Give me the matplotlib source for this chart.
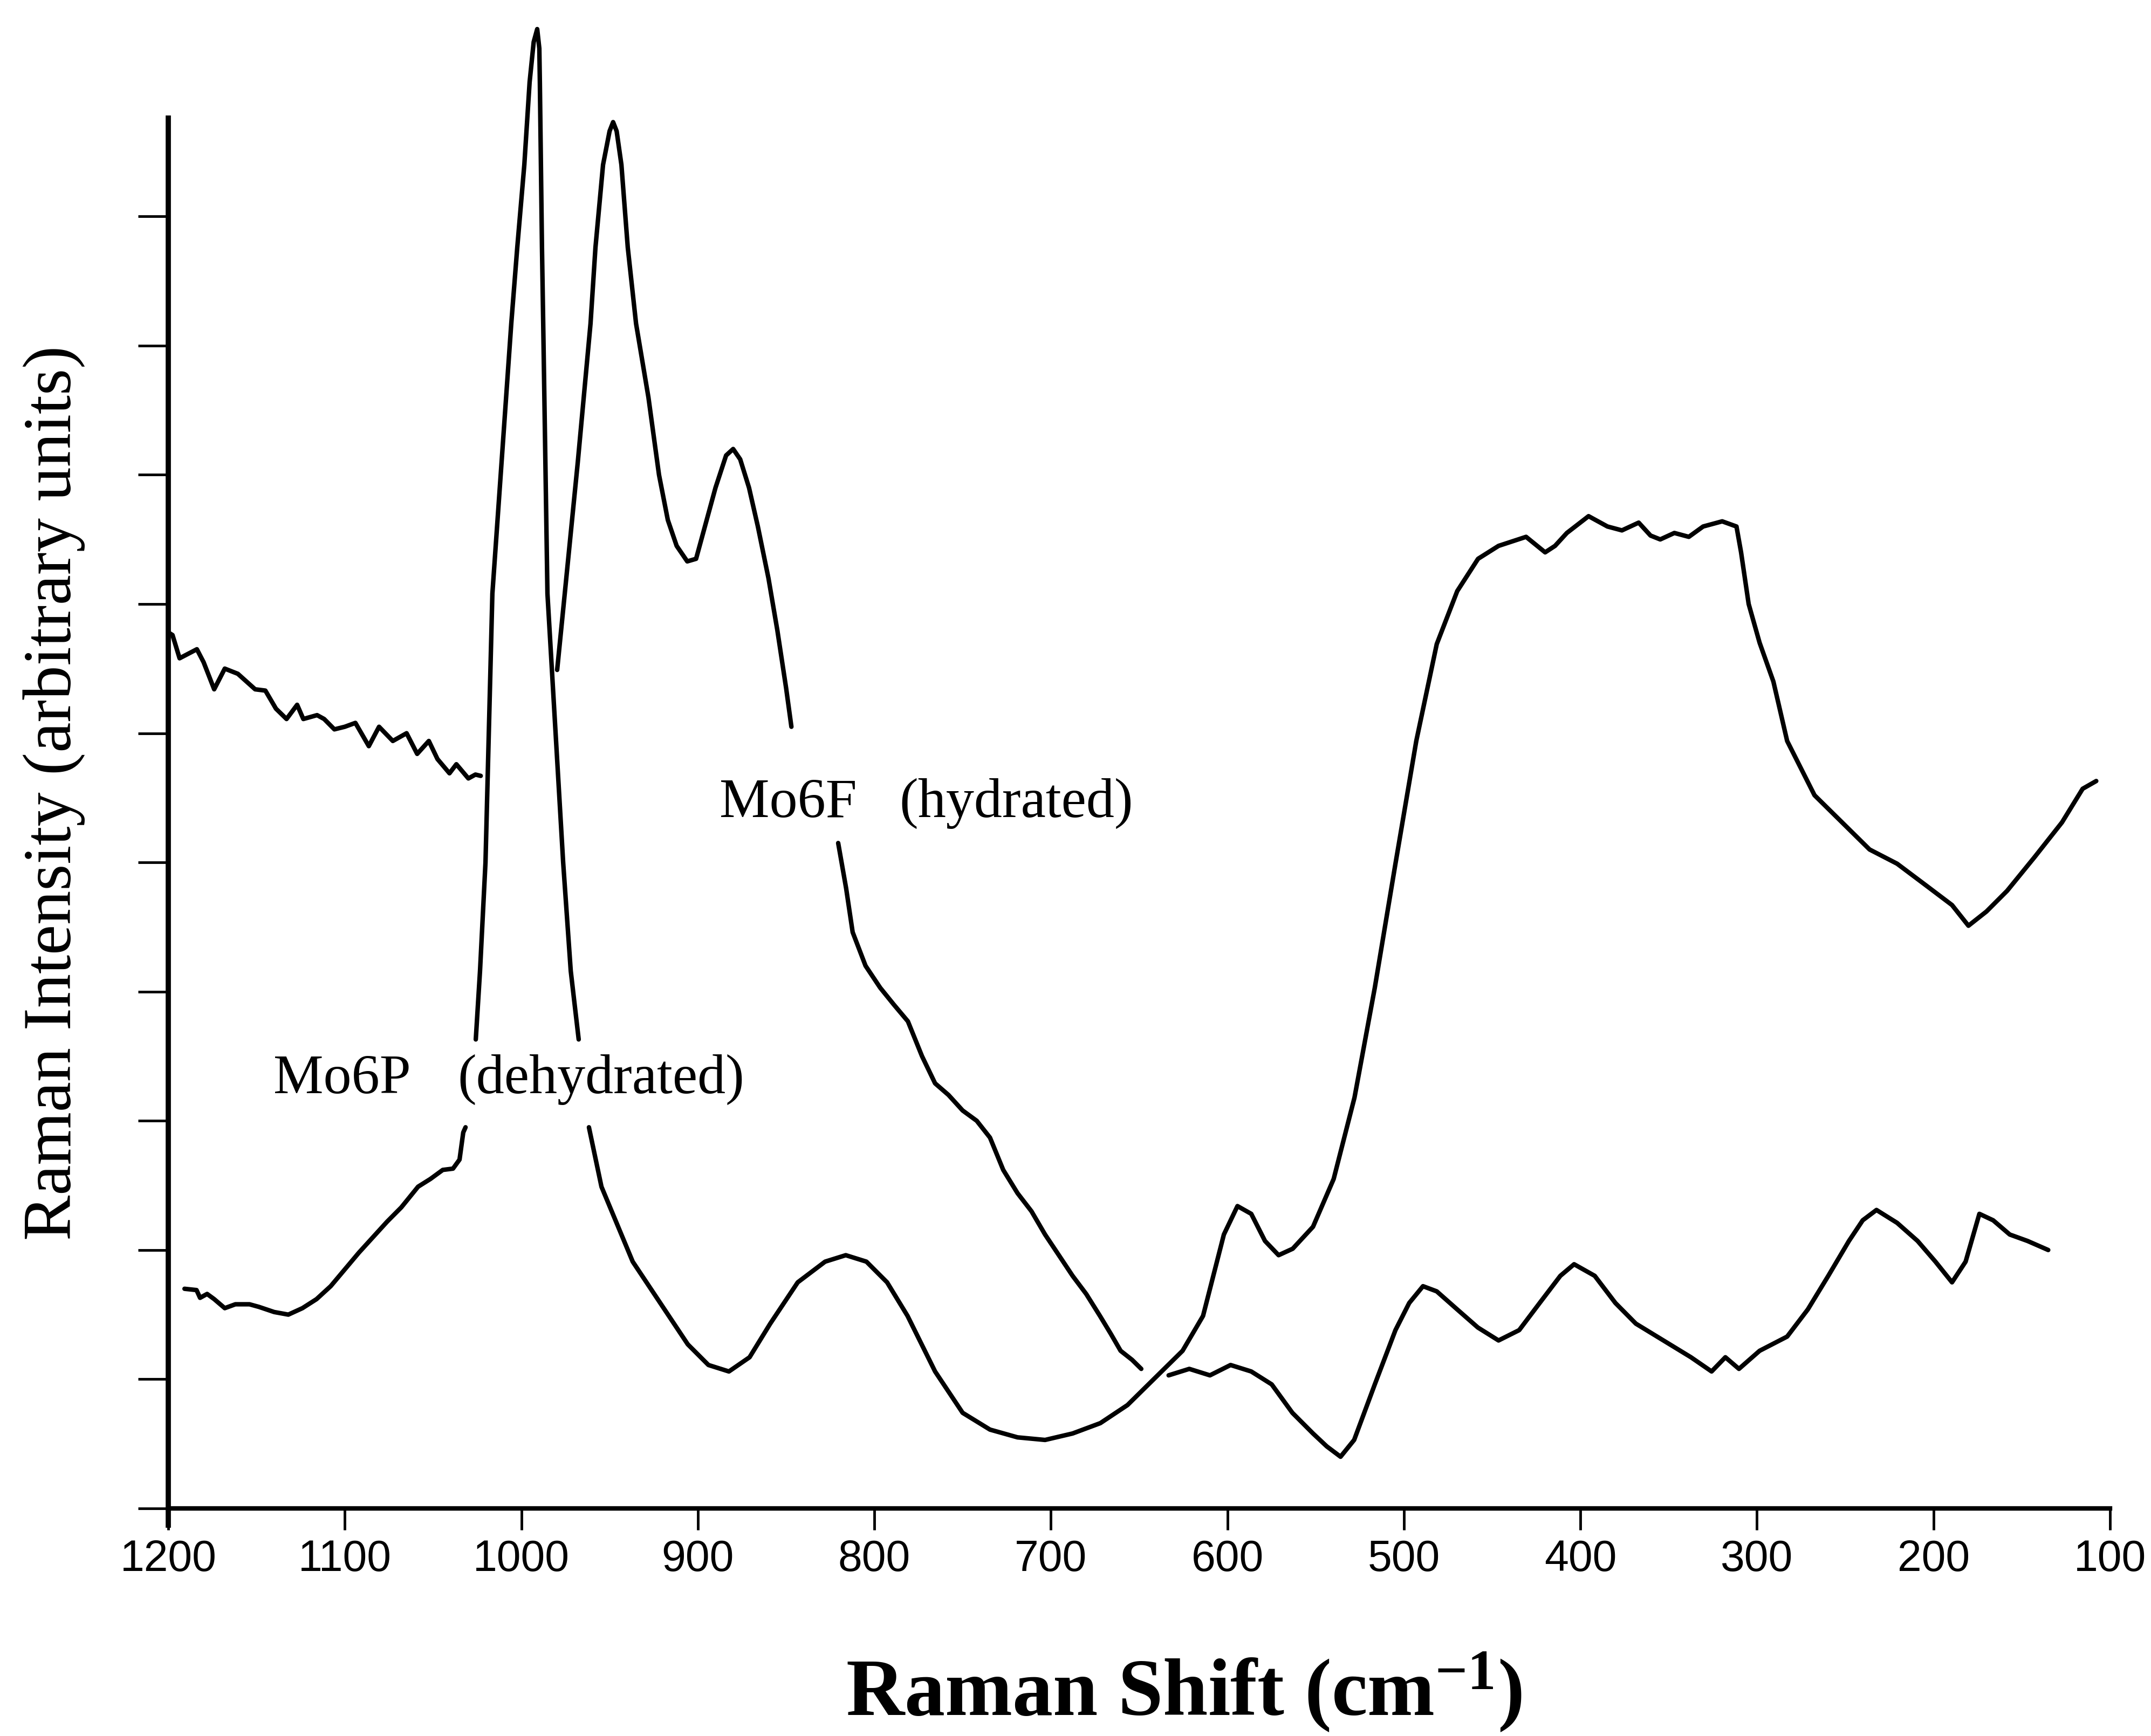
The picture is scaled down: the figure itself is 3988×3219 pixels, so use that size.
import matplotlib
matplotlib.use("Agg")
import matplotlib.pyplot as plt

# ---------------- data (Raman shift cm-1, intensity a.u.) ----------------
# Mo6F (hydrated) — drawn in separate pieces (gaps where it crosses other marks/labels)
mo6f_a_x = [1200, 1197.6, 1193.6, 1183.8, 1180, 1174, 1168, 1160.6, 1150.8, 1145, 1139, 1133,
            1127, 1123.5, 1115.7, 1111.7, 1105.9, 1100, 1094, 1086.4, 1080.6, 1072.8, 1065,
            1059, 1052.4, 1047.5, 1040.7, 1036.8, 1030, 1026, 1023]
mo6f_a_y = [6.78, 6.76, 6.58, 6.65, 6.55, 6.34, 6.50, 6.46, 6.34, 6.33, 6.19, 6.11,
            6.22, 6.11, 6.14, 6.11, 6.03, 6.05, 6.08, 5.90, 6.05, 5.94, 6.00,
            5.84, 5.94, 5.80, 5.69, 5.76, 5.65, 5.68, 5.67]

mo6f_b_x = [979.7, 975.4, 968, 960.8, 958, 953.7, 950, 948, 946, 943.3, 939.7, 935, 928, 922,
            917, 912, 906, 901, 896, 890, 884, 880, 876, 871, 866, 860, 855, 850, 847]
mo6f_b_y = [6.49, 7.08, 8.10, 9.17, 9.76, 10.40, 10.66, 10.73, 10.66, 10.40, 9.76, 9.17, 8.60, 8.00,
            7.65, 7.45, 7.33, 7.35, 7.60, 7.90, 8.15, 8.20, 8.12, 7.90, 7.60, 7.20, 6.80, 6.35, 6.05]

mo6f_c_x = [820.5, 816, 812.3, 805, 796.7, 789, 781, 773, 765.6, 758, 750, 742, 734.5, 727,
            718.9, 711, 703.3, 695, 687.7, 680, 672.2, 666, 660.5, 654, 648.8]
mo6f_c_y = [5.15, 4.80, 4.46, 4.20, 4.03, 3.90, 3.77, 3.50, 3.29, 3.20, 3.08, 3.00, 2.87, 2.62,
            2.44, 2.30, 2.12, 1.95, 1.80, 1.66, 1.49, 1.35, 1.22, 1.15, 1.08]

mo6f_d_x = [633.3, 621.6, 609.9, 598.2, 586.5, 574.9, 563.2, 551.5, 543.7, 535.9, 528.2, 516.5,
            504.8, 497, 489.2, 481.4, 469.8, 458.1, 446.4, 434.7, 423.1, 411.4, 403.6, 391.9,
            380.2, 368.6, 353, 337.4, 325.7, 317.9, 310.2, 298.5, 282.9, 271.2, 259.6, 247.9,
            240.1, 232.3, 220.6, 209, 198.9, 189.5, 181.8, 174, 166.2, 156.8, 146.7, 135]
mo6f_d_y = [1.03, 1.08, 1.03, 1.11, 1.06, 0.96, 0.74, 0.58, 0.48, 0.40, 0.53, 0.96,
            1.38, 1.59, 1.72, 1.68, 1.54, 1.40, 1.30, 1.38, 1.59, 1.80, 1.89, 1.80,
            1.59, 1.43, 1.30, 1.17, 1.06, 1.17, 1.08, 1.22, 1.33, 1.54, 1.80, 2.07,
            2.23, 2.31, 2.21, 2.07, 1.91, 1.75, 1.91, 2.28, 2.23, 2.12, 2.07, 2.00]

# Mo6P (dehydrated)
mo6p_a_x = [1190.8, 1184, 1182, 1178, 1174, 1168, 1162, 1154, 1148.7, 1140, 1132, 1124, 1116,
            1108, 1100, 1092, 1084, 1076, 1068, 1058.5, 1051.5, 1044.5, 1038.7, 1035, 1032.9, 1031.6]
mo6p_a_y = [1.70, 1.69, 1.63, 1.66, 1.62, 1.55, 1.58, 1.58, 1.56, 1.52, 1.50, 1.55, 1.62,
            1.72, 1.85, 1.98, 2.10, 2.22, 2.33, 2.49, 2.55, 2.62, 2.63, 2.70, 2.91, 2.95]

mo6p_b_x = [1025.8, 1023.4, 1020.3, 1016.4, 1005.7, 1002.3, 998.3, 995.3, 993, 991, 989.8,
            989.5, 988.9, 988.3, 987.6, 985.2, 976.3, 972, 967.5]
mo6p_b_y = [3.63, 4.16, 5.00, 7.08, 9.17, 9.76, 10.40, 11.04, 11.35, 11.45, 11.30,
            11.04, 10.40, 9.76, 9.17, 7.08, 5.00, 4.16, 3.63]

mo6p_c_x = [961.7, 954.6, 936.9, 921.3, 905.7, 894, 882.4, 870.7, 859, 843.4, 827.9, 816.2,
            804.5, 792.8, 781.2, 765.6, 750, 734.5, 718.9, 703.3, 687.7, 672, 656.6, 641,
            625.4, 613.8, 602, 594.3, 586.5, 578.7, 571, 563, 551.5, 539.8, 528, 516.5,
            504.8, 493, 481.4, 469.8, 458, 446.4, 430.8, 420, 414.4, 407.7, 395.4, 384.7,
            376.5, 367, 360.3, 354.8, 346.8, 338.6, 330.5, 319.7, 311.6, 309, 304.7, 298.5,
            290.7, 282.9, 267.4, 251.8, 236.2, 220.6, 205, 189.5, 180.2, 170, 158.3, 142.8,
            127.2, 115.5, 107.8]
mo6p_c_y = [2.95, 2.49, 1.91, 1.59, 1.27, 1.11, 1.06, 1.17, 1.43, 1.75, 1.91, 1.96,
            1.91, 1.75, 1.49, 1.06, 0.74, 0.61, 0.55, 0.53, 0.58, 0.66, 0.80, 1.01,
            1.22, 1.49, 2.12, 2.34, 2.28, 2.07, 1.96, 2.01, 2.18, 2.55, 3.18, 4.03,
            4.99, 5.94, 6.69, 7.10, 7.35, 7.45, 7.52, 7.40, 7.45, 7.55, 7.68, 7.60,
            7.57, 7.63, 7.53, 7.50, 7.55, 7.52, 7.60, 7.64, 7.60, 7.40, 7.00, 6.70,
            6.40, 5.94, 5.52, 5.31, 5.10, 4.99, 4.83, 4.67, 4.51, 4.62, 4.78, 5.04,
            5.31, 5.57, 5.63]

x_ticks = [1200, 1100, 1000, 900, 800, 700, 600, 500, 400, 300, 200, 100]
x_tick_labels = ["1200", "1100", "1000", "900", "800", "700", "600", "500", "400", "300", "200", "100"]
y_ticks = [0, 1, 2, 3, 4, 5, 6, 7, 8, 9, 10]

# ---------------- figure ----------------
plt.rcParams["mathtext.default"] = "regular"
W, H = 3988, 3219
fig = plt.figure(figsize=(W / 100, H / 100), dpi=100)
fig.patch.set_facecolor("white")

left, right = 312 / W, 3912 / W
bottom = 1 - 2797 / H
top = 1 - 18 / H
ax = fig.add_axes([left, bottom, right - left, top - bottom])

line_kw = dict(color="black", lw=6, solid_capstyle="round", solid_joinstyle="round", clip_on=False)
for xs, ys in [(mo6f_a_x, mo6f_a_y), (mo6f_b_x, mo6f_b_y), (mo6f_c_x, mo6f_c_y), (mo6f_d_x, mo6f_d_y),
               (mo6p_a_x, mo6p_a_y), (mo6p_b_x, mo6p_b_y), (mo6p_c_x, mo6p_c_y)]:
    ax.plot(xs, ys, **line_kw)

ax.set_xlim(1200, 100)
ax.set_ylim(0, 11.6)
ax.set_xticks(x_ticks)
ax.set_xticklabels(x_tick_labels, fontfamily=["Liberation Sans", "DejaVu Sans"], fontsize=58)
ax.set_yticks(y_ticks)
ax.set_yticklabels([])

for s in ("top", "right"):
    ax.spines[s].set_visible(False)
ax.spines["left"].set_linewidth(7)
ax.spines["bottom"].set_linewidth(6)
ax.spines["left"].set_bounds(-0.13, 10.76)
ax.tick_params(axis="y", direction="out", length=40, width=3.5)
ax.tick_params(axis="x", direction="out", length=29, width=3.5, pad=12)
ax.patch.set_alpha(0)

serif = ["Liberation Serif", "DejaVu Serif"]
fig.text(100 / W, 1 - 1470 / H, "Raman Intensity (arbitrary units)", rotation=90,
         ha="center", va="center", fontfamily=serif, fontsize=91)
fig.text(2195 / W, 1 - 3180 / H, "Raman Shift (cm$^{-1}$)", ha="center", va="baseline",
         fontfamily=serif, fontsize=108, fontweight="bold")

fig.text(507 / W, 1 - 2027 / H, "Mo6P", ha="left", va="baseline", fontfamily=serif, fontsize=75)
fig.text(848 / W, 1 - 2027 / H, "(dehydrated)", ha="left", va="baseline", fontfamily=serif, fontsize=75)
fig.text(1334 / W, 1 - 1515 / H, "Mo6F", ha="left", va="baseline", fontfamily=serif, fontsize=75)
fig.text(1667 / W, 1 - 1515 / H, "(hydrated)", ha="left", va="baseline", fontfamily=serif, fontsize=75)

fig.savefig("out.png", dpi=100, facecolor="white")
